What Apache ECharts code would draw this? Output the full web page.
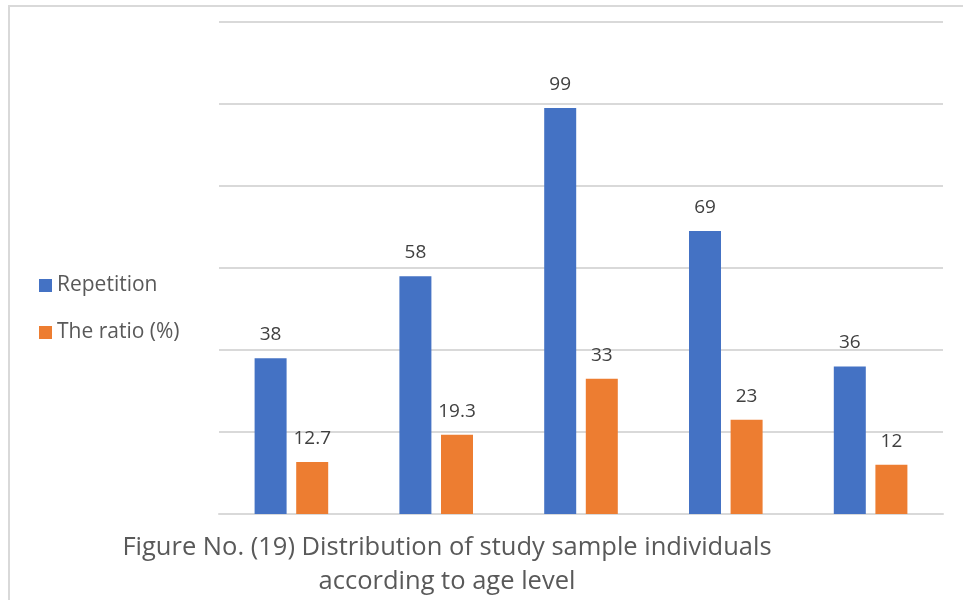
<!DOCTYPE html>
<html>
<head>
<meta charset="utf-8">
<script src="https://cdn.jsdelivr.net/npm/echarts@6/dist/echarts.min.js"></script>
<style>html,body{margin:0;padding:0;background:#fff}#c{width:963px;height:600px}</style>
</head>
<body>
<div id="c"></div>
<script>
const categories = ["Group 1", "Group 2", "Group 3", "Group 4", "Group 5"];
const repetition = [38, 58, 99, 69, 36];
const ratio = [12.7, 19.3, 33, 23, 12];
const seriesNames = ["Repetition", "The ratio (%)"];
const titleLines = ["Figure No. (19) Distribution of study sample individuals", "according to age level"];

const chart = echarts.init(document.getElementById('c'), null, {renderer: 'canvas'});
const fontFam = "'Open Sans', 'Noto Sans', sans-serif";
const labelStyle = {show: true, position: 'top', distance: 14, color: '#404040', fontSize: 19, fontFamily: fontFam};
chart.setOption({
  animation: false,
  backgroundColor: '#fff',
  graphic: [
    {type: 'rect', shape: {x: 9, y: 6, width: 1100, height: 1000}, style: {fill: 'none', stroke: '#d9d9d9', lineWidth: 2}, silent: true, z: -1},
    {type: 'text', x: 447, y: 531, style: {text: titleLines.join('\n'), textAlign: 'center', textVerticalAlign: 'top', fill: '#595959', fontSize: 25.5, lineHeight: 34, fontFamily: fontFam}}
  ],
  legend: {
    orient: 'vertical', left: 34, top: 270, itemWidth: 13, itemHeight: 13, itemGap: 26, icon: 'rect',
    textStyle: {color: '#595959', fontSize: 21, fontFamily: fontFam},
    data: seriesNames
  },
  grid: {left: 219, right: 20, top: 22, bottom: 86, containLabel: false},
  xAxis: {
    type: 'category', data: categories,
    axisLine: {show: true, lineStyle: {color: '#d9d9d9', width: 2}},
    axisTick: {show: false}, axisLabel: {show: false}
  },
  yAxis: {
    type: 'value', min: 0, max: 120, interval: 20,
    axisLine: {show: false}, axisTick: {show: false}, axisLabel: {show: false},
    splitLine: {lineStyle: {color: '#d9d9d9', width: 2}}
  },
  series: [
    {name: seriesNames[0], type: 'bar', data: repetition, barWidth: 32, barGap: '30%', itemStyle: {color: '#4472c4'}, label: labelStyle},
    {name: seriesNames[1], type: 'bar', data: ratio, barWidth: 32, itemStyle: {color: '#ed7d31'}, label: labelStyle}
  ]
});
</script>
</body>
</html>
